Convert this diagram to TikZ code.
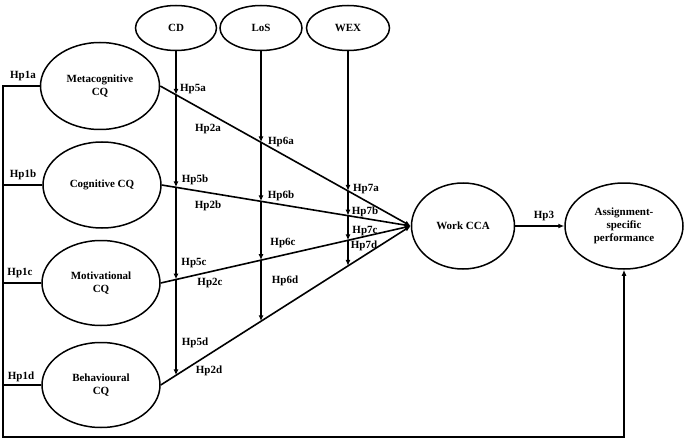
\documentclass[tikz,border=0pt]{standalone}
\usepackage{fontspec}
\setmainfont{Liberation Serif}
\usetikzlibrary{shapes.geometric,arrows.meta}
\begin{document}
\begin{tikzpicture}[x=1pt,y=-1pt,
 every node/.style={font=\fontsize{11}{13}\selectfont\bfseries},
 ell/.style={draw,ellipse,line width=1.5pt,inner sep=0pt,align=center},
 conn/.style={line width=1.6pt},
 arr/.style={conn,-{Latex[length=6pt,width=5pt]}},
 lab/.style={inner sep=0pt}]
\useasboundingbox (0,0) rectangle (685,441);
% ellipses
\node[ell,minimum width=81pt,minimum height=45pt] (cd) at (176,28) {CD};
\node[ell,minimum width=82pt,minimum height=45pt] (los) at (261,28) {LoS};
\node[ell,minimum width=83pt,minimum height=45pt] (wex) at (348,28) {WEX};
\node[ell,minimum width=119pt,minimum height=87pt] (meta) at (100,86) {Metacognitive\\CQ};
\node[ell,minimum width=118pt,minimum height=86pt] (cog) at (102,185) {Cognitive CQ};
\node[ell,minimum width=118pt,minimum height=85pt] (mot) at (101,283) {Motivational\\CQ};
\node[ell,minimum width=118pt,minimum height=85pt] (beh) at (101,385) {Behavioural\\CQ};
\node[ell,minimum width=103pt,minimum height=86pt] (work) at (463,226) {Work CCA};
\node[ell,minimum width=118pt,minimum height=86pt] (assign) at (624,226) {Assignment-\\specific\\performance};
% helper coordinates
\coordinate (cdb) at (176,441);
\coordinate (losb) at (261,441);
\coordinate (wexb) at (348,441);
\coordinate (c1) at (3,437);
\coordinate (c2) at (624,437);
% paths to Work CCA
\draw[arr] (meta.east) -- (work.west);
\draw[arr] (cog.east) -- (work.west);
\draw[arr] (mot.east) -- (work.west);
\draw[arr] (beh.east) -- (work.west);
% intersections
\coordinate (a1) at (intersection of meta.east--work.west and cd.south--cdb);
\coordinate (a2) at (intersection of cog.east--work.west and cd.south--cdb);
\coordinate (a3) at (intersection of mot.east--work.west and cd.south--cdb);
\coordinate (a4) at (intersection of beh.east--work.west and cd.south--cdb);
\coordinate (b1) at (intersection of meta.east--work.west and los.south--losb);
\coordinate (b2) at (intersection of cog.east--work.west and los.south--losb);
\coordinate (b3) at (intersection of mot.east--work.west and los.south--losb);
\coordinate (b4) at (intersection of beh.east--work.west and los.south--losb);
\coordinate (w1) at (intersection of meta.east--work.west and wex.south--wexb);
\coordinate (w2) at (intersection of cog.east--work.west and wex.south--wexb);
\coordinate (w3) at (intersection of mot.east--work.west and wex.south--wexb);
\coordinate (w4) at (intersection of beh.east--work.west and wex.south--wexb);
% moderators
\draw[arr] (cd) -- (a1);
\draw[arr] (a1) -- (a2);
\draw[arr] (a2) -- (a3);
\draw[arr] (a3) -- (a4);
\draw[arr] (los) -- (b1);
\draw[arr] (b1) -- (b2);
\draw[arr] (b2) -- (b3);
\draw[arr] (b3) -- (b4);
\draw[arr] (wex) -- (w1);
\draw[arr] (w1) -- (w2);
\draw[arr] (w2) -- (w3);
\draw[arr] (w3) -- (w4);
% Hp3
\draw[arr] (work.east) -- (assign.west);
% feedback loop
\draw[arr] (meta.west) -| (c1) -- (c2) -- (assign.south);
\draw[conn] (cog.west) -- (cog.west -| c1);
\draw[conn] (mot.west) -- (mot.west -| c1);
\draw[conn] (beh.west) -- (beh.west -| c1);
% labels
\node[lab] (l1a) at (23,76) {Hp1a};
\node[lab] (l1b) at (23,175) {Hp1b};
\node[lab] (l1c) at (20,273) {Hp1c};
\node[lab] (l1d) at (21,377) {Hp1d};
\node[lab] (l5a) at (193,89) {Hp5a};
\node[lab] (l5b) at (195,180) {Hp5b};
\node[lab] (l5c) at (194,263) {Hp5c};
\node[lab] (l5d) at (195,343) {Hp5d};
\node[lab] (l2a) at (208,129) {Hp2a};
\node[lab] (l2b) at (208,206) {Hp2b};
\node[lab] (l2c) at (210,283) {Hp2c};
\node[lab] (l2d) at (209,371) {Hp2d};
\node[lab] (l6a) at (281,142) {Hp6a};
\node[lab] (l6b) at (281,196) {Hp6b};
\node[lab] (l6c) at (283,243) {Hp6c};
\node[lab] (l6d) at (285,281) {Hp6d};
\node[lab] (l7a) at (366,189) {Hp7a};
\node[lab] (l7b) at (365,212) {Hp7b};
\node[lab] (l7c) at (365,231) {Hp7c};
\node[lab] (l7d) at (364,246) {Hp7d};
\node[lab] (l3) at (544,216) {Hp3};
\end{tikzpicture}
\end{document}
